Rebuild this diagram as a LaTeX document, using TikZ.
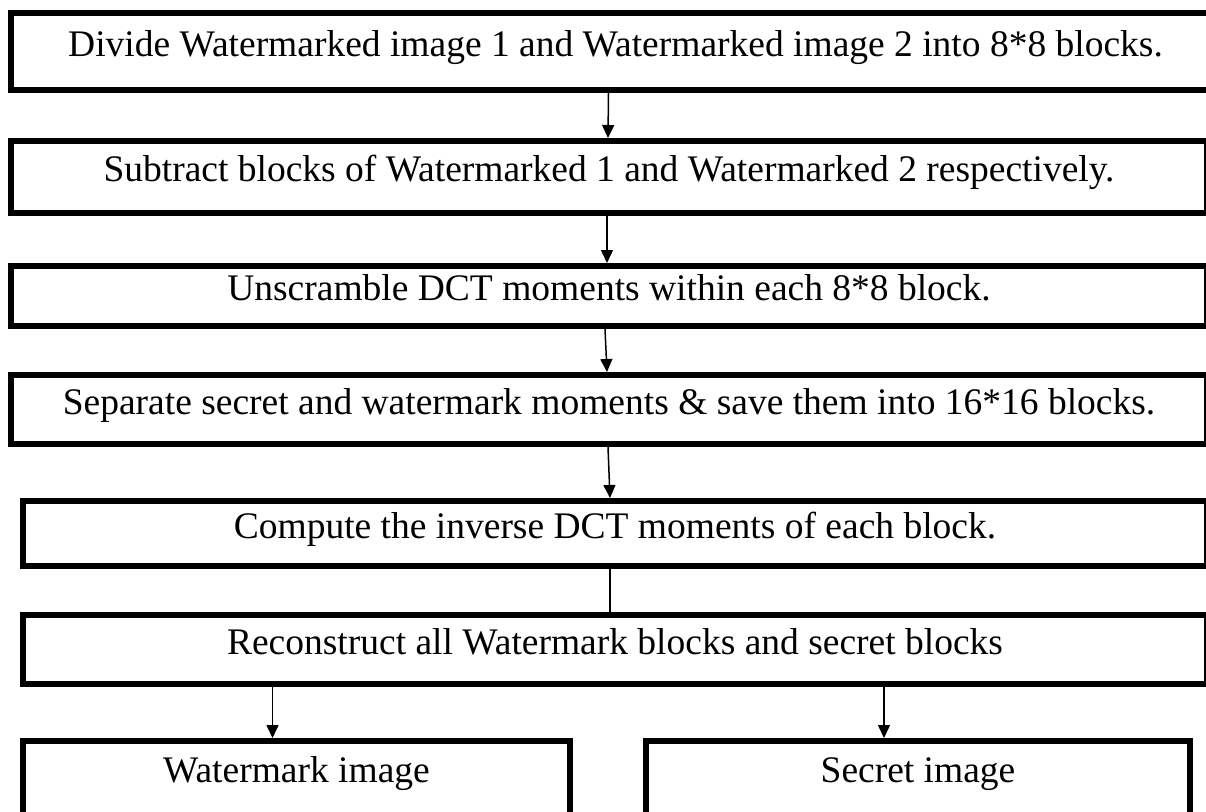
\documentclass[tikz,border=0pt]{standalone}
\usepackage{fontspec}
\setmainfont{Liberation Serif}
\usetikzlibrary{arrows.meta,calc}

\tikzset{
  stepbox/.style={draw, line width=3pt, inner sep=0pt, text height=0.68em, text depth=0.22em,
    font=\fontsize{18.75pt}{23pt}\selectfont},
  arr/.style={-{Triangle[length=6.5pt,width=6pt]}, line width=0.75pt},
}

\begin{document}
\begin{tikzpicture}[x=0.5pt,y=-0.5pt]
	\useasboundingbox (0,0) rectangle (1206,811);
	\clip (0,0) rectangle (1206,811);
	\fill[white] (0,0) rectangle (1206,811);
	% main steps
	\node[stepbox, minimum width=604.5pt, minimum height=38.5pt] (divide) at (615.5,51.5) {Divide Watermarked image 1 and Watermarked image 2 into 8*8 blocks.};
	\node[stepbox, minimum width=598pt, minimum height=36pt] (subtract) at (609,177) {Subtract blocks of Watermarked 1 and Watermarked 2 respectively.};
	\node[stepbox, minimum width=598pt, minimum height=30pt] (unscramble) at (609,296) {Unscramble DCT moments within each 8*8 block.};
	\node[stepbox, minimum width=598pt, minimum height=34.5pt] (separate) at (609,409.5) {Separate secret and watermark moments \& save them into 16*16 blocks.};
	\node[stepbox, minimum width=592pt, minimum height=32.5pt] (compute) at (615,533.5) {Compute the inverse DCT moments of each block.};
	\node[stepbox, minimum width=592pt, minimum height=34.5pt] (rebuild) at (615,649.5) {Reconstruct all Watermark blocks and secret blocks};
	% outputs
	\node[stepbox, minimum width=273.5pt, minimum height=37pt] (wmimg) at (296.5,778) {Watermark image};
	\node[stepbox, minimum width=272pt, minimum height=37pt] (secimg) at (918,778) {Secret image};
	\coordinate (wmtop) at ($(wmimg.north)+(-24,0)$);
	\coordinate (sectop) at ($(secimg.north)+(-34,0)$);
	% connectors
	\draw[arr] ($(divide.south)+(-7,0)$) -- ($(subtract.north)+(-1,0)$);
	\draw[arr] ($(subtract.south)+(-2,-6)$) -- ($(unscramble.north)+(-2,0)$);
	\draw[arr] ($(unscramble.south)+(-4,0)$) -- ($(separate.north)+(-2,0)$);
	\draw[arr] ($(separate.south)+(-1,0)$) -- ($(compute.north)+(-5,0)$);
	\draw[line width=0.75pt] ($(compute.south)+(-5,0)$) -- ($(rebuild.north)+(-5,0)$);
	\draw[arr] ($(rebuild.south -| wmtop)+(0,-4)$) -- (wmtop);
	\draw[arr] ($(rebuild.south -| sectop)+(0,-4)$) -- (sectop);
\end{tikzpicture}
\end{document}
